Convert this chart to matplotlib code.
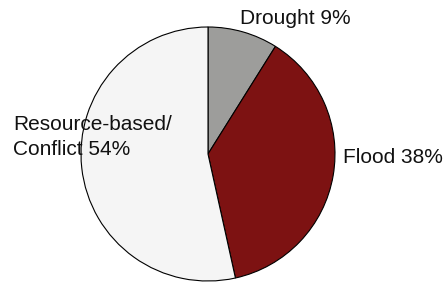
import matplotlib
matplotlib.use("Agg")
import matplotlib.pyplot as plt

labels = ["Drought 9%", "Flood 38%", "Resource-based/\nConflict 54%"]
values = [9, 38, 54]
colors = ["#9d9d9b", "#7d1212", "#f5f5f5"]

plt.rcParams['font.family'] = ['Liberation Sans', 'DejaVu Sans']

fig = plt.figure(figsize=(4.45, 2.84), dpi=100)
ax = fig.add_axes([0, 0, 1, 1])
ax.pie(values, colors=colors, startangle=90, counterclock=False,
       wedgeprops=dict(edgecolor="black", linewidth=0.8), radius=1.0,
       center=(0, 0), frame=False)
ax.set_xlim(-208/127, (445-208)/127)
ax.set_ylim(-(284-154)/127, 154/127)
ax.set_aspect('equal')
ax.axis('off')

pos = [(0.252, 1.063, 'left'), (1.063, -0.031, 'left'), (-1.535, 0.13, 'left')]
for lab, (x, y, ha) in zip(labels, pos):
    ax.text(x, y, lab, ha=ha, va='center', fontsize=15, color='#111111',
            linespacing=1.4)

fig.savefig("out.png", dpi=100)
